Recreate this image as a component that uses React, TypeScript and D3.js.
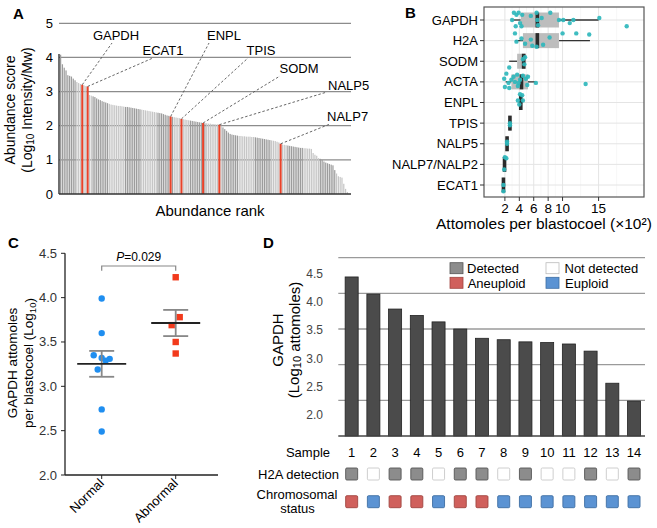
import React from 'react';
import * as d3 from 'd3';

const FONT = '"Liberation Sans", Arial, Helvetica, sans-serif';

// ---------- Panel A data ----------
const A_VALUES = [
  4.08, 3.8, 3.7, 3.62, 3.48, 3.46, 3.44, 3.38, 3.33, 3.28,
  3.25, 3.22, 3.2, 3.18, 3.16, 3.15, 2.9, 2.88, 2.86, 2.84,
  2.8, 2.77, 2.75, 2.72, 2.7, 2.68, 2.66, 2.64, 2.62, 2.61,
  2.6, 2.59, 2.58, 2.58, 2.57, 2.56, 2.55, 2.55, 2.54, 2.53,
  2.52, 2.51, 2.5, 2.49, 2.48, 2.47, 2.46, 2.45, 2.44, 2.43,
  2.42, 2.41, 2.4, 2.39, 2.38, 2.37, 2.36, 2.34, 2.32, 2.3,
  2.29, 2.27, 2.26, 2.25, 2.24, 2.23, 2.22, 2.2, 2.19, 2.18,
  2.17, 2.16, 2.15, 2.14, 2.13, 2.12, 2.11, 2.1, 2.09, 2.08,
  2.07, 2.07, 2.06, 2.06, 2.05, 2.05, 2.04, 2.04, 2.03, 2.0,
  1.95, 1.9, 1.85, 1.8, 1.76, 1.74, 1.73, 1.72, 1.71, 1.7,
  1.7, 1.69, 1.69, 1.68, 1.68, 1.68, 1.67, 1.67, 1.66, 1.65,
  1.64, 1.63, 1.62, 1.61, 1.6, 1.59, 1.58, 1.57, 1.56, 1.55,
  1.53, 1.51, 1.47, 1.45, 1.44, 1.43, 1.42, 1.41, 1.4, 1.39,
  1.38, 1.37, 1.36, 1.35, 1.35, 1.34, 1.34, 1.33, 1.33, 1.32,
  1.2, 1.15, 1.12, 1.05, 1.03, 1.0, 0.95, 0.92, 0.9, 0.88,
  0.86, 0.84, 0.7, 0.6, 0.52, 0.5, 0.48, 0.3, 0.15, 0.06,
];
const A_HIGHLIGHT_NAMES = ['GAPDH', 'ECAT1', 'ENPL', 'TPIS', 'SODM', 'NALP5', 'NALP7'];
const A_HIGHLIGHT_RANKS = [12, 15, 61, 67, 79, 88, 122];
const A_TICKS = [0, 1, 2, 3, 4, 5];

// ---------- Panel B data ----------
const B_CATEGORIES = ['GAPDH', 'H2A', 'SODM', 'ACTA', 'ENPL', 'TPIS', 'NALP5', 'NALP7/NALP2', 'ECAT1'];
const B_WHISKER_LOW = [2.9, 3.4, 2.6, 2.1, 3.9, 2.6, 2.2, 1.85, 1.75];
const B_Q1 = [4.2, 4.5, 3.7, 2.9, 4.0, 2.65, 2.25, 1.9, 1.78];
const B_MEDIAN = [6.5, 6.5, 4.6, 4.3, 4.2, 2.7, 2.3, 1.95, 1.8];
const B_Q3 = [9.5, 9.5, 4.9, 5.2, 4.4, 2.75, 2.35, 2.0, 1.85];
const B_WHISKER_HIGH = [15.0, 13.8, 4.9, 6.2, 4.5, 2.8, 2.4, 2.1, 1.88];
// [category index, value, vertical jitter (category units)]
const B_POINTS: [number, number, number][] = [
  [0, 3.25, -0.35], [0, 3.6, -0.25], [0, 3.9, -0.35], [0, 4.4, -0.25], [0, 3.0, 0.0],
  [0, 3.5, 0.3], [0, 4.1, 0.15], [0, 4.3, 0.3], [0, 5.6, -0.2], [0, 6.4, -0.35],
  [0, 6.5, 0.0], [0, 6.6, 0.25], [0, 7.1, -0.1], [0, 8.3, -0.35], [0, 9.5, 0.0],
  [0, 10.1, 0.0], [0, 11.0, 0.15], [0, 11.5, 0.0], [0, 15.1, -0.1], [0, 18.9, 0.3],
  [1, 3.4, -0.35], [1, 3.6, 0.05], [1, 4.3, -0.1], [1, 5.6, -0.05], [1, 5.8, 0.25],
  [1, 7.3, 0.2], [1, 8.2, -0.15], [1, 10.0, -0.35], [1, 11.9, -0.35], [1, 13.7, -0.3],
  [1, 6.4, 0.3], [1, 4.8, 0.15],
  [2, 4.5, -0.1], [2, 4.7, 0.15], [2, 4.8, -0.2], [2, 2.6, 0.3],
  [3, 2.2, -0.4], [3, 1.9, -0.15], [3, 2.0, 0.25], [3, 2.5, 0.05], [3, 2.9, -0.1],
  [3, 3.2, -0.25], [3, 3.4, 0.0], [3, 3.7, -0.35], [3, 3.9, 0.05], [3, 4.1, -0.1],
  [3, 4.5, -0.3], [3, 4.9, -0.15], [3, 5.1, 0.15], [3, 5.2, -0.25], [3, 6.3, 0.05],
  [3, 13.2, 0.1], [3, 2.6, 0.3], [3, 3.8, 0.2],
  [4, 3.8, -0.1], [4, 4.1, -0.4], [4, 4.4, -0.35], [4, 4.5, -0.1], [4, 4.0, 0.1],
  [5, 2.7, 0.0], [5, 2.7, 0.1],
  [6, 2.3, 0.0], [6, 2.3, -0.1],
  [7, 2.0, -0.35], [7, 2.2, -0.3], [7, 1.9, 0.25],
  [8, 1.8, 0.0], [8, 1.8, 0.3],
];
const B_TICKS = [2, 4, 6, 8, 10, 15];
const B_MINOR = [3, 5, 7, 9, 12.5, 17.5];

// ---------- Panel C data ----------
const C_GROUPS = ['Normal', 'Abnormal'];
const C_NORMAL = [3.99, 3.6, 3.35, 3.32, 3.31, 3.29, 3.19, 2.74, 2.49];
const C_NORMAL_JITTER = [0, 0, -8, 0, 8, 4, -4, 0, 0];
const C_ABNORMAL = [4.23, 3.78, 3.69, 3.5, 3.37];
const C_ABNORMAL_JITTER = [0, 4, -4, 0, 0];
const C_TICKS = [2.0, 2.5, 3.0, 3.5, 4.0, 4.5];

// ---------- Panel D data ----------
const D_SAMPLES = ['1', '2', '3', '4', '5', '6', '7', '8', '9', '10', '11', '12', '13', '14'];
const D_GAPDH = [4.23, 3.99, 3.78, 3.69, 3.6, 3.5, 3.37, 3.35, 3.32, 3.31, 3.29, 3.19, 2.74, 2.49];
const D_H2A_DETECTED = [1, 0, 1, 1, 0, 1, 1, 0, 1, 0, 0, 1, 0, 1];
const D_ANEUPLOID = [1, 0, 1, 1, 0, 1, 1, 0, 0, 0, 0, 0, 0, 0];
const D_TICKS = [2.0, 2.5, 3.0, 3.5, 4.0, 4.5];

const RED = '#d0605c';
const BLUE = '#5b93d3';
const GRAY = '#8c8c8c';

function PanelA() {
  const x = d3.scaleBand<number>().domain(d3.range(A_VALUES.length)).range([60, 348]).paddingInner(0.32);
  const y = d3.scaleLinear().domain([0, 5]).range([194, 23.3]);
  const bw = x.bandwidth();
  const layout = [
    { tx: 116, ty: 40, anchor: 'middle', lx: 112, ly: 43 },
    { tx: 163, ty: 55, anchor: 'middle', lx: 153, ly: 58 },
    { tx: 224, ty: 40, anchor: 'middle', lx: 209, ly: 43 },
    { tx: 261, ty: 55, anchor: 'middle', lx: 248, ly: 58 },
    { tx: 299, ty: 73, anchor: 'middle', lx: 280, ly: 76 },
    { tx: 328, ty: 90, anchor: 'start', lx: 327, ly: 92 },
    { tx: 327, ty: 121, anchor: 'start', lx: 330, ly: 124 },
  ];
  const hl = new Set(A_HIGHLIGHT_RANKS);
  return (
    <g>
      <text x={13} y={18.5} fontWeight="bold" fontSize={15}>A</text>
      {A_TICKS.filter((t) => t > 0).map((t) => (
        <line key={'g' + t} x1={59} x2={351} y1={y(t)} y2={y(t)} stroke="#8c8c8c" strokeWidth={1.3} />
      ))}
      {A_TICKS.map((t) => (
        <text key={'t' + t} x={53} y={y(t)} textAnchor="end" dominantBaseline="central" fontSize={13}>{t}</text>
      ))}
      {A_VALUES.map((v, i) =>
        hl.has(i) ? null : (
          <rect key={i} x={x(i)} y={y(v)} width={bw} height={y(0) - y(v)}
            fill={Math.floor(i / 9) % 2 ? '#c6c6c6' : '#9c9c9c'} />
        )
      )}
      {A_HIGHLIGHT_RANKS.map((r, k) => (
        <rect key={'h' + k} x={(x(r) as number) - 0.4} y={y(A_VALUES[r])} width={bw + 0.8}
          height={y(0) - y(A_VALUES[r])} fill="#e8432a" />
      ))}
      <line x1={59} x2={59} y1={y(4.1)} y2={y(0)} stroke="#333" strokeWidth={1.4} />
      <line x1={59} x2={351} y1={y(0)} y2={y(0)} stroke="#333" strokeWidth={1.4} />
      {A_HIGHLIGHT_RANKS.map((r, k) => {
        const L = layout[k];
        return (
          <g key={'l' + k}>
            <line x1={(x(r) as number) + bw / 2} y1={y(A_VALUES[r])} x2={L.lx} y2={L.ly}
              stroke="#555" strokeWidth={0.9} strokeDasharray="2.5,2" />
            <text x={L.tx} y={L.ty} textAnchor={L.anchor as any} fontSize={13}>{A_HIGHLIGHT_NAMES[k]}</text>
          </g>
        );
      })}
      <text transform="translate(10,110) rotate(-90)" textAnchor="middle" dominantBaseline="central" fontSize={14}>Abundance score</text>
      <text transform="translate(27,110) rotate(-90)" textAnchor="middle" dominantBaseline="central" fontSize={14}>
        (Log<tspan fontSize={10} dy={3}>10</tspan><tspan dy={-3}> Intensity/Mw)</tspan>
      </text>
      <text x={210} y={210} textAnchor="middle" dominantBaseline="central" fontSize={15}>Abundance rank</text>
    </g>
  );
}

function PanelB() {
  const x = d3.scaleLinear().domain([-0.9, 21.3]).range([484, 644]);
  const y = d3.scalePoint<string>().domain(B_CATEGORIES).range([20, 185]);
  const step = y.step();
  const bh = 15;
  return (
    <g>
      <text x={405} y={18.3} fontWeight="bold" fontSize={15}>B</text>
      <rect x={484} y={7} width={160} height={190} fill="#fff" />
      {B_MINOR.map((t) => (
        <line key={'m' + t} x1={x(t)} x2={x(t)} y1={7} y2={197} stroke="#f2f2f2" strokeWidth={0.6} />
      ))}
      {B_TICKS.map((t) => (
        <line key={'g' + t} x1={x(t)} x2={x(t)} y1={7} y2={197} stroke="#e4e4e4" strokeWidth={1} />
      ))}
      {B_CATEGORIES.map((c) => (
        <line key={'h' + c} x1={484} x2={644} y1={y(c)} y2={y(c)} stroke="#e4e4e4" strokeWidth={1} />
      ))}
      {B_CATEGORIES.map((c, i) => {
        const cy = y(c) as number;
        return (
          <g key={'b' + c}>
            <line x1={x(B_WHISKER_LOW[i])} x2={x(B_Q1[i])} y1={cy} y2={cy} stroke="#333" strokeWidth={1.3} />
            <line x1={x(B_Q3[i])} x2={x(B_WHISKER_HIGH[i])} y1={cy} y2={cy} stroke="#333" strokeWidth={1.3} />
            <rect x={x(B_Q1[i])} y={cy - bh / 2} width={x(B_Q3[i]) - x(B_Q1[i])} height={bh} fill="#bdbdbd" />
            <rect x={x(B_MEDIAN[i]) - 1.8} y={cy - bh / 2} width={3.6} height={bh} fill="#2b2b2b" />
          </g>
        );
      })}
      {B_POINTS.map(([ci, v, j], k) => (
        <circle key={'p' + k} cx={x(v)} cy={(y(B_CATEGORIES[ci]) as number) + j * step}
          r={2.2} fill="#2fb7bc" fillOpacity={0.92} />
      ))}
      <rect x={484} y={7} width={160} height={190} fill="none" stroke="#555" strokeWidth={1.2} />
      {B_CATEGORIES.map((c) => (
        <g key={'t' + c}>
          <line x1={480} x2={484} y1={y(c)} y2={y(c)} stroke="#333" strokeWidth={1} />
          <text x={478} y={y(c)} textAnchor="end" dominantBaseline="central" fontSize={13}>{c}</text>
        </g>
      ))}
      {B_TICKS.map((t) => (
        <g key={'x' + t}>
          <line x1={x(t)} x2={x(t)} y1={197} y2={201} stroke="#333" strokeWidth={1} />
          <text x={x(t)} y={208.5} textAnchor="middle" dominantBaseline="central" fontSize={13.5}>{t}</text>
        </g>
      ))}
      <text x={436} y={223} dominantBaseline="central" fontSize={15.5}>Attomoles per blastocoel (×10²)</text>
    </g>
  );
}

function PanelC() {
  const y = d3.scaleLinear().domain([2.0, 4.5]).range([475, 253.3]);
  const x = d3.scalePoint<string>().domain(C_GROUPS).range([101.7, 175.7]);
  const groups = [
    { name: 'Normal', vals: C_NORMAL, jit: C_NORMAL_JITTER },
    { name: 'Abnormal', vals: C_ABNORMAL, jit: C_ABNORMAL_JITTER },
  ];
  const fmt = d3.format('.1f');
  const xN = x('Normal') as number;
  const xA = x('Abnormal') as number;
  return (
    <g>
      <text x={8} y={248} fontWeight="bold" fontSize={15}>C</text>
      <line x1={65} x2={65} y1={253.3} y2={475} stroke="#222" strokeWidth={1.3} />
      <line x1={65} x2={218} y1={475} y2={475} stroke="#222" strokeWidth={1.3} />
      {C_TICKS.map((t) => (
        <g key={'t' + t}>
          <line x1={61} x2={65} y1={y(t)} y2={y(t)} stroke="#222" strokeWidth={1} />
          <text x={57} y={y(t)} textAnchor="end" dominantBaseline="central" fontSize={13} fill="#333">{fmt(t)}</text>
        </g>
      ))}
      {groups.map((g) => {
        const cx = x(g.name) as number;
        return (
          <g key={'x' + g.name}>
            <line x1={cx} x2={cx} y1={475} y2={479} stroke="#222" strokeWidth={1} />
            <text transform={`translate(${cx + 3},${484}) rotate(-45)`} textAnchor="end" fontSize={13}>{g.name}</text>
          </g>
        );
      })}
      {groups.map((g, gi) => {
        const cx = x(g.name) as number;
        const m = d3.mean(g.vals) as number;
        const se = (d3.deviation(g.vals) as number) / Math.sqrt(g.vals.length);
        return (
          <g key={'s' + g.name}>
            {g.vals.map((v, k) =>
              gi === 0 ? (
                <circle key={k} cx={cx + g.jit[k]} cy={y(v)} r={3.2} fill="#1f8ef0" />
              ) : (
                <rect key={k} x={cx + g.jit[k] - 3.2} y={y(v) - 3.2} width={6.4} height={6.4} fill="#f23a1c" />
              )
            )}
            <line x1={cx} x2={cx} y1={y(m - se)} y2={y(m + se)} stroke="#888" strokeWidth={1.8} />
            <line x1={cx - 12.5} x2={cx + 12.5} y1={y(m - se)} y2={y(m - se)} stroke="#888" strokeWidth={1.8} />
            <line x1={cx - 12.5} x2={cx + 12.5} y1={y(m + se)} y2={y(m + se)} stroke="#888" strokeWidth={1.8} />
            <line x1={cx - 24.5} x2={cx + 24.5} y1={y(m)} y2={y(m)} stroke="#222" strokeWidth={1.8} />
          </g>
        );
      })}
      <path d={`M${xN},270.7V266H${xA}V270.7`} fill="none" stroke="#888" strokeWidth={1.2} />
      <text x={(xN + xA) / 2} y={261} textAnchor="middle" fontSize={12}>
        <tspan fontStyle="italic">P</tspan>=0.029
      </text>
      <text transform="translate(12,363) rotate(-90)" textAnchor="middle" dominantBaseline="central" fontSize={13.5}>GAPDH attomoles</text>
      <text transform="translate(28.5,363) rotate(-90)" textAnchor="middle" dominantBaseline="central" fontSize={13.5}>
        per blastocoel (Log<tspan fontSize={9.5} dy={3}>10</tspan><tspan dy={-3}>)</tspan>
      </text>
    </g>
  );
}

function PanelD() {
  const y = d3.scaleLinear().domain([2.0, 4.5]).range([436, 257.7]);
  const yLabel = d3.scaleLinear().domain([2.0, 4.5]).range([415, 274]);
  const x = d3.scaleBand<string>().domain(D_SAMPLES).range([340.8, 644.9]).paddingInner(0.4).paddingOuter(0.2);
  const bw = x.bandwidth();
  const fmt = d3.format('.1f');
  const box = 12;
  return (
    <g>
      <text x={263} y={248} fontWeight="bold" fontSize={15}>D</text>
      {D_TICKS.filter((t) => t > 2).map((t) => (
        <line key={'g' + t} x1={338.3} x2={645} y1={y(t)} y2={y(t)} stroke="#9a9a9a" strokeWidth={1.3} />
      ))}
      {D_TICKS.map((t) => (
        <text key={'t' + t} x={323} y={yLabel(t)} textAnchor="end" dominantBaseline="central" fontSize={12} fill="#444">{fmt(t)}</text>
      ))}
      {D_SAMPLES.map((s, i) => (
        <rect key={'b' + s} x={x(s)} y={y(D_GAPDH[i])} width={bw} height={y(2.0) - y(D_GAPDH[i])}
          fill="#4b4b4b" stroke="#222" strokeWidth={0.8} />
      ))}
      <line x1={338.3} x2={645} y1={y(2.0)} y2={y(2.0)} stroke="#444" strokeWidth={1.6} />
      {/* legend */}
      <rect x={450} y={262.7} width={13} height={11} fill={GRAY} stroke="#555" strokeWidth={0.8} />
      <text x={467} y={268.5} dominantBaseline="central" fontSize={13}>Detected</text>
      <rect x={546} y={262.7} width={13} height={11} fill="#fff" stroke="#bbb" strokeWidth={0.8} />
      <text x={564.5} y={268.5} dominantBaseline="central" fontSize={13}>Not detected</text>
      <rect x={450} y={277.3} width={13} height={11} fill={RED} stroke="#a04540" strokeWidth={0.8} />
      <text x={467.7} y={283.5} dominantBaseline="central" fontSize={13}>Aneuploid</text>
      <rect x={546} y={277.3} width={13} height={11} fill={BLUE} stroke="#3e6ea3" strokeWidth={0.8} />
      <text x={565} y={283.5} dominantBaseline="central" fontSize={13}>Euploid</text>
      {/* rows */}
      <text x={330} y={452.7} textAnchor="end" dominantBaseline="central" fontSize={13}>Sample</text>
      <text x={339} y={474} textAnchor="end" dominantBaseline="central" fontSize={13}>H2A detection</text>
      <text x={297} y={494.3} textAnchor="middle" dominantBaseline="central" fontSize={13}>Chromosomal</text>
      <text x={297.5} y={508.3} textAnchor="middle" dominantBaseline="central" fontSize={13}>status</text>
      {D_SAMPLES.map((s, i) => {
        const cx = (x(s) as number) + bw / 2;
        return (
          <g key={'r' + s}>
            <text x={cx} y={452.7} textAnchor="middle" dominantBaseline="central" fontSize={13}>{s}</text>
            <rect x={cx - box / 2} y={474 - box / 2} width={box} height={box} rx={1.2}
              fill={D_H2A_DETECTED[i] ? GRAY : '#fff'} stroke={D_H2A_DETECTED[i] ? '#555' : '#c8c8c8'} strokeWidth={0.9} />
            <rect x={cx - box / 2} y={501.7 - box / 2} width={box} height={box} rx={1.2}
              fill={D_ANEUPLOID[i] ? RED : BLUE} stroke={D_ANEUPLOID[i] ? '#a04540' : '#3e6ea3'} strokeWidth={0.9} />
          </g>
        );
      })}
      <text transform="translate(277,340) rotate(-90)" textAnchor="middle" dominantBaseline="central" fontSize={15}>GAPDH</text>
      <text transform="translate(293.5,340) rotate(-90)" textAnchor="middle" dominantBaseline="central" fontSize={15}>
        (Log<tspan fontSize={11} dy={3}>10</tspan><tspan dy={-3}> attomoles)</tspan>
      </text>
    </g>
  );
}

export default function App() {
  return (
    <svg width={657} height={528} viewBox="0 0 657 528"
      style={{ position: 'absolute', left: 0, top: 0, fontFamily: FONT }} fontFamily={FONT}>
      <rect x={0} y={0} width={657} height={528} fill="#fff" />
      <PanelA />
      <PanelB />
      <PanelC />
      <PanelD />
    </svg>
  );
}
